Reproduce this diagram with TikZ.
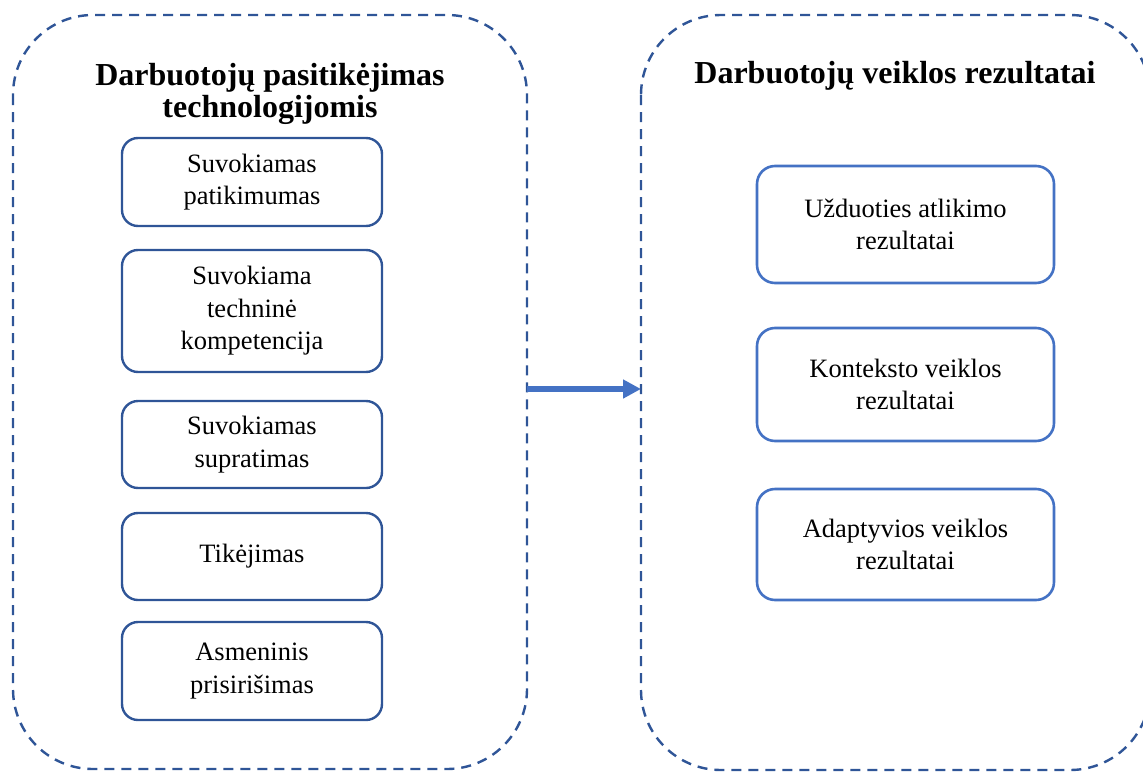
\documentclass[tikz,border=0pt]{standalone}
\usepackage{fontspec}
\setmainfont{Liberation Serif}
\usetikzlibrary{arrows.meta}
\definecolor{darkb}{HTML}{2F5597}
\definecolor{lightb}{HTML}{4472C4}
\begin{document}
\begin{tikzpicture}[x=1pt,y=-1pt,
  group/.style={draw=darkb, line width=2.4pt, dash pattern=on 10pt off 7pt, rounded corners=80pt},
  lbox/.style={draw=darkb, line width=2.4pt, rounded corners=16pt, align=center, font=\fontsize{26.5}{32.5}\selectfont, inner sep=0pt},
  rbox/.style={draw=lightb, line width=2.6pt, rounded corners=18pt, align=center, font=\fontsize{26.5}{32.5}\selectfont, inner sep=0pt},
  title/.style={align=center, font=\fontsize{32}{32}\selectfont\bfseries},
  link/.style={draw=lightb, line width=5.5pt, -{Triangle[length=18pt,width=18pt]}}]
\useasboundingbox (0,0) rectangle (1143,771);
\begin{scope}
\clip (0,0) rectangle (1143,771);
\draw[group] (13,15) rectangle (527,769);
\draw[group] (641,15) rectangle (1150,770);
\end{scope}
\coordinate (lg) at (527,389);
\coordinate (rg) at (641,389);
\node[title] (t1) at (270,94) {Darbuotojų pasitikėjimas\\technologijomis};
\node[title] (t2) at (895,76) {Darbuotojų veiklos rezultatai};
\node[lbox, minimum width=260pt, minimum height=88pt] (l1) at (252,182) {Suvokiamas\\patikimumas};
\node[lbox, minimum width=260pt, minimum height=122pt] (l2) at (252,311) {Suvokiama\\techninė\\kompetencija};
\node[lbox, minimum width=260pt, minimum height=87pt] (l3) at (252,444.5) {Suvokiamas\\supratimas};
\node[lbox, minimum width=260pt, minimum height=87pt] (l4) at (252,556.5) {Tikėjimas};
\node[lbox, minimum width=260pt, minimum height=98pt] (l5) at (252,671) {Asmeninis\\prisirišimas};
\node[rbox, minimum width=297pt, minimum height=117pt] (r1) at (905.5,224.5) {Užduoties atlikimo\\rezultatai};
\node[rbox, minimum width=297pt, minimum height=113pt] (r2) at (905.5,384.5) {Konteksto veiklos\\rezultatai};
\node[rbox, minimum width=297pt, minimum height=111pt] (r3) at (905.5,544.5) {Adaptyvios veiklos\\rezultatai};
\draw[link] (lg) -- (rg);
\end{tikzpicture}
\end{document}
